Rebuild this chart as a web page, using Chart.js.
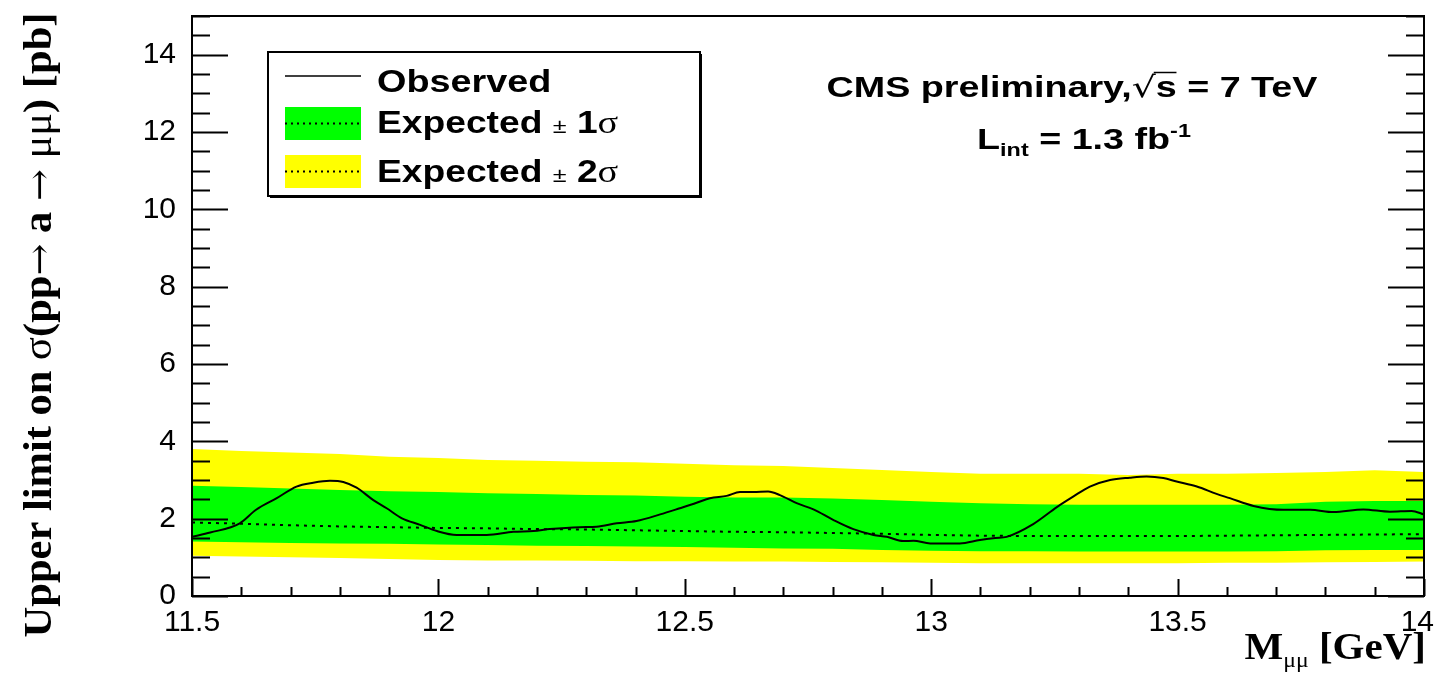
<!DOCTYPE html>
<html>
<head>
<meta charset="utf-8">
<script src="https://cdn.jsdelivr.net/npm/chart.js@4.4.1/dist/chart.umd.min.js"></script>
<style>
  html, body { margin: 0; padding: 0; background: #fff; }
  #plot { display: block; }
</style>
</head>
<body>
<canvas id="plot" width="1436" height="680"></canvas>
<script>
// mass grid for the expected-limit bands (GeV)
const massGrid = [11.5, 11.6, 11.7, 11.8, 11.9, 12.0, 12.1, 12.2, 12.3, 12.4, 12.5, 12.6, 12.7,
                  12.8, 12.9, 13.0, 13.1, 13.2, 13.3, 13.4, 13.5, 13.6, 13.7, 13.8, 13.9, 14.0];
const yellowHi = [3.80, 3.75, 3.71, 3.67, 3.60, 3.57, 3.52, 3.50, 3.47, 3.46, 3.42, 3.38, 3.36,
                  3.31, 3.26, 3.21, 3.16, 3.16, 3.16, 3.13, 3.16, 3.16, 3.18, 3.21, 3.25, 3.21];
const greenHi  = [2.85, 2.82, 2.78, 2.74, 2.71, 2.69, 2.66, 2.64, 2.61, 2.60, 2.57, 2.55, 2.55,
                  2.52, 2.48, 2.44, 2.40, 2.37, 2.36, 2.36, 2.36, 2.36, 2.37, 2.44, 2.46, 2.46];
const expected = [1.90, 1.87, 1.83, 1.80, 1.78, 1.76, 1.75, 1.73, 1.72, 1.70, 1.68, 1.66, 1.65,
                  1.63, 1.61, 1.58, 1.56, 1.55, 1.55, 1.55, 1.55, 1.56, 1.57, 1.58, 1.59, 1.60];
const greenLo  = [1.41, 1.39, 1.37, 1.36, 1.35, 1.33, 1.32, 1.30, 1.29, 1.28, 1.27, 1.25, 1.23,
                  1.22, 1.19, 1.17, 1.16, 1.16, 1.15, 1.15, 1.15, 1.15, 1.16, 1.18, 1.19, 1.19];
const yellowLo = [1.04, 1.02, 1.00, 0.98, 0.96, 0.93, 0.92, 0.92, 0.91, 0.90, 0.90, 0.89, 0.89,
                  0.88, 0.87, 0.86, 0.85, 0.85, 0.85, 0.85, 0.85, 0.86, 0.86, 0.87, 0.88, 0.89];

// observed limit scan
const obsMass = [11.50, 11.537, 11.597, 11.63, 11.672, 11.712, 11.746, 11.78, 11.807, 11.834,
                 11.868, 11.895, 11.926, 11.963, 11.997, 12.037, 12.098, 12.152, 12.193, 12.226,
                 12.287, 12.321, 12.362, 12.402, 12.45, 12.49, 12.524, 12.551, 12.585, 12.612,
                 12.639, 12.669, 12.693, 12.727, 12.761, 12.801, 12.842, 12.883, 12.91, 12.943,
                 12.964, 12.998, 13.058, 13.099, 13.13, 13.153, 13.207, 13.255, 13.288, 13.322,
                 13.363, 13.403, 13.437, 13.471, 13.498, 13.539, 13.579, 13.606, 13.654, 13.715,
                 13.769, 13.816, 13.877, 13.931, 13.975, 14.0];
const obsLimit = [1.53, 1.64, 1.88, 2.23, 2.53, 2.83, 2.93, 2.98, 2.95, 2.80,
                  2.48, 2.27, 2.01, 1.84, 1.68, 1.58, 1.58, 1.66, 1.68, 1.73,
                  1.78, 1.79, 1.88, 1.94, 2.11, 2.27, 2.41, 2.53, 2.59, 2.69,
                  2.69, 2.70, 2.61, 2.40, 2.24, 1.97, 1.73, 1.58, 1.53, 1.42,
                  1.43, 1.36, 1.36, 1.45, 1.50, 1.53, 1.86, 2.30, 2.57, 2.83,
                  3.00, 3.06, 3.09, 3.05, 2.96, 2.83, 2.64, 2.53, 2.33, 2.23,
                  2.23, 2.17, 2.24, 2.18, 2.20, 2.11];

const xTicks = [11.5, 12, 12.5, 13, 13.5, 14];
const yTicks = [0, 2, 4, 6, 8, 10, 12, 14];

const SANS = '"Liberation Sans", Arial, Helvetica, sans-serif';
const SERIF = '"Liberation Serif", "Times New Roman", serif';
const TICK_FONT = '30px ' + SANS;

const pts = (xs, ys) => xs.map((x, i) => ({ x: x, y: ys[i] }));

// draw a run of text pieces with different fonts, left to right,
// optionally stretched horizontally by sx
function textRuns(ctx, runs, x, y, align, sx) {
  sx = sx || 1;
  let total = 0;
  runs.forEach(r => { ctx.font = r.f; r.w = ctx.measureText(r.t).width; total += r.w; });
  const start = align === 'center' ? x - total * sx / 2 : align === 'right' ? x - total * sx : x;
  ctx.save();
  ctx.translate(start, y);
  ctx.scale(sx, 1);
  let cx = 0;
  runs.forEach(r => {
    ctx.font = r.f;
    ctx.fillText(r.t, cx, r.dy || 0);
    r.x = start + cx * sx;
    r.sw = r.w * sx;
    cx += r.w;
  });
  ctx.restore();
  return runs;
}

// ROOT-style frame with inward ticks on left, right and bottom
const framePlugin = {
  id: 'frame',
  afterDraw(chart) {
    const { ctx, chartArea: a, scales } = chart;
    const ys = scales.y, xs = scales.x;
    ctx.save();
    ctx.strokeStyle = '#000';
    ctx.lineWidth = 2;
    ctx.strokeRect(a.left, a.top, a.right - a.left, a.bottom - a.top);
    ctx.beginPath();
    for (let v = 0; v <= 15.0001; v += 0.5) {
      const py = Math.round(ys.getPixelForValue(v)) + 0.5;
      const len = Math.abs(v % 2) < 1e-6 ? 36 : 18;
      ctx.moveTo(a.left, py); ctx.lineTo(a.left + len, py);
      ctx.moveTo(a.right, py); ctx.lineTo(a.right - len, py);
    }
    for (let v = 11.5; v <= 14.0001; v += 0.1) {
      const px = Math.round(xs.getPixelForValue(v)) + 0.5;
      const major = Math.abs((v * 2) - Math.round(v * 2)) < 1e-6;
      ctx.moveTo(px, a.bottom); ctx.lineTo(px, a.bottom - (major ? 17 : 9));
    }
    ctx.stroke();

    // the last mass label sits flush with the canvas edge
    const last = xTicks[xTicks.length - 1];
    ctx.fillStyle = '#000';
    ctx.font = TICK_FONT;
    ctx.textAlign = 'right';
    ctx.textBaseline = 'middle';
    ctx.fillText(String(last), 1434, a.bottom + 9 + 18);
    ctx.restore();
  }
};

// axis titles, legend box and the CMS label
const annotPlugin = {
  id: 'annot',
  afterDraw(chart) {
    const { ctx, chartArea: a } = chart;
    ctx.save();
    ctx.fillStyle = '#000';
    ctx.textBaseline = 'alphabetic';

    // y title, rotated
    ctx.save();
    ctx.translate(51, 325);
    ctx.rotate(-Math.PI / 2);
    const B = 'bold 39px ' + SERIF, R = '39px ' + SERIF, A = '35px "DejaVu Serif", serif';
    textRuns(ctx, [
      { t: 'Upper limit on ', f: B }, { t: 'σ', f: R }, { t: '(pp', f: B },
      { t: '→', f: A }, { t: ' a ', f: B }, { t: '→', f: A }, { t: ' ', f: B },
      { t: 'μμ', f: R }, { t: ') [pb]', f: B }
    ], 0, 0, 'center', 1.09);
    ctx.restore();

    // x title
    textRuns(ctx, [
      { t: 'M', f: 'bold 38px ' + SERIF },
      { t: 'μμ', f: '22px ' + SERIF, dy: 8 },
      { t: ' [GeV]', f: 'bold 38px ' + SERIF }
    ], a.right + 2, 659, 'right', 1.08);

    // CMS label
    const L = 'bold 29px ' + SANS;
    const r = textRuns(ctx, [
      { t: 'CMS preliminary,', f: L }, { t: '√', f: '29px "DejaVu Sans", sans-serif' },
      { t: 's = 7 TeV', f: L }
    ], 1072, 97, 'center', 1.3);
    ctx.lineWidth = 1.5;
    ctx.beginPath();
    ctx.moveTo(r[1].x + r[1].sw - 2, 72.5);
    ctx.lineTo(r[2].x + 0.55 * 29 * 1.3, 72.5);
    ctx.stroke();
    textRuns(ctx, [
      { t: 'L', f: L }, { t: 'int', f: 'bold 18px ' + SANS, dy: 7 },
      { t: ' = 1.3 fb', f: L }, { t: '-1', f: 'bold 18px ' + SANS, dy: -12 }
    ], 1084, 149, 'center', 1.3);

    // legend
    const lx = 268, ly = 52, lw = 432, lh = 144;
    ctx.fillStyle = '#fff';
    ctx.fillRect(lx, ly, lw, lh);
    ctx.strokeStyle = '#000';
    ctx.lineWidth = 2;
    ctx.strokeRect(lx, ly, lw, lh);
    ctx.fillStyle = '#000';
    ctx.fillRect(lx + 2, ly + lh, lw, 2);
    ctx.fillRect(lx + lw, ly + 2, 2, lh);

    const sx0 = 285, sx1 = 361;
    ctx.beginPath();
    ctx.moveTo(sx0, 76); ctx.lineTo(sx1, 76);
    ctx.lineWidth = 1.5; ctx.stroke();

    [[107, '#00ff00', '1', 133], [155, '#ffff00', '2', 182]].forEach(([top, col, n, base]) => {
      ctx.fillStyle = col;
      ctx.fillRect(sx0, top, sx1 - sx0, 33);
      ctx.save();
      ctx.setLineDash([2, 4]);
      ctx.lineWidth = 2;
      ctx.strokeStyle = '#000';
      ctx.beginPath();
      ctx.moveTo(sx0, top + 16.5); ctx.lineTo(sx1, top + 16.5);
      ctx.stroke();
      ctx.restore();
      ctx.fillStyle = '#000';
      textRuns(ctx, [
        { t: 'Expected ', f: 'bold 31px ' + SANS }, { t: '±', f: '21px ' + SANS },
        { t: ' ' + n, f: 'bold 31px ' + SANS }, { t: 'σ', f: '32px ' + SERIF }
      ], 377, base, 'left', 1.2);
    });
    textRuns(ctx, [{ t: 'Observed', f: 'bold 31px ' + SANS }], 377, 92, 'left', 1.22);

    ctx.restore();
  }
};

new Chart(document.getElementById('plot'), {
  type: 'line',
  data: {
    datasets: [
      { label: 'Observed', data: pts(obsMass, obsLimit), borderColor: '#000', borderWidth: 2,
        pointRadius: 0, fill: false, cubicInterpolationMode: 'monotone', order: 0 },
      { label: 'Expected', data: pts(massGrid, expected), borderColor: '#000', borderWidth: 2,
        borderDash: [3, 5], pointRadius: 0, fill: false, order: 1 },
      { label: '+1 sigma', data: pts(massGrid, greenHi), borderWidth: 0, pointRadius: 0,
        backgroundColor: '#00ff00', fill: 3, order: 2 },
      { label: '-1 sigma', data: pts(massGrid, greenLo), borderWidth: 0, pointRadius: 0,
        fill: false, order: 3 },
      { label: '+2 sigma', data: pts(massGrid, yellowHi), borderWidth: 0, pointRadius: 0,
        backgroundColor: '#ffff00', fill: 5, order: 4 },
      { label: '-2 sigma', data: pts(massGrid, yellowLo), borderWidth: 0, pointRadius: 0,
        fill: false, order: 5 }
    ]
  },
  options: {
    responsive: false,
    animation: false,
    layout: { padding: { left: 0, top: 16, right: 12, bottom: 0 } },
    plugins: { legend: { display: false }, tooltip: { enabled: false } },
    scales: {
      x: {
        type: 'linear', min: 11.5, max: 14,
        afterBuildTicks: s => { s.ticks = xTicks.map(v => ({ value: v })); },
        afterFit: s => { s.height = 84; s.paddingLeft = 0; s.paddingRight = 0; },
        grid: { display: false, drawTicks: false }, border: { display: false },
        ticks: { padding: 9, color: '#000', font: { family: SANS, size: 30 },
                 maxRotation: 0, autoSkip: false,
                 callback: v => (v === xTicks[xTicks.length - 1] ? '' : String(v)) }
      },
      y: {
        type: 'linear', min: 0, max: 15,
        afterBuildTicks: s => { s.ticks = yTicks.map(v => ({ value: v })); },
        afterFit: s => { s.width = 192; s.paddingTop = 0; s.paddingBottom = 0; },
        grid: { display: false, drawTicks: false }, border: { display: false },
        ticks: { padding: 16, color: '#000', font: { family: SANS, size: 30 },
                 callback: v => String(v) }
      }
    }
  },
  plugins: [framePlugin, annotPlugin]
});
</script>
</body>
</html>
